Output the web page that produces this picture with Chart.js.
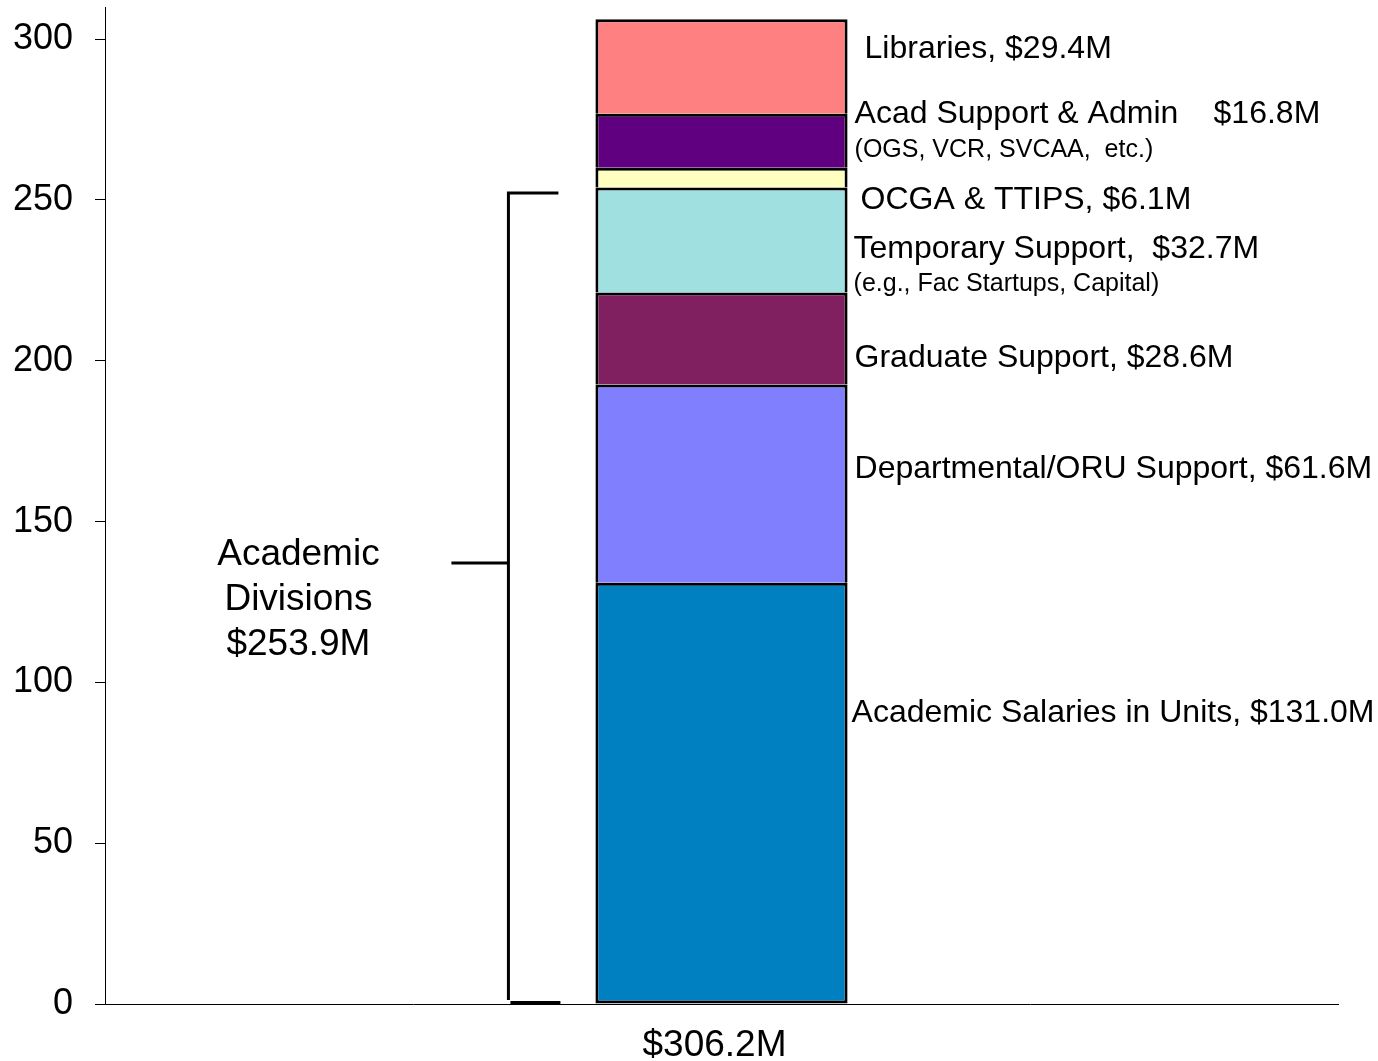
<!DOCTYPE html>
<html>
<head>
<meta charset="utf-8">
<script src="https://cdn.jsdelivr.net/npm/chart.js@4.4.1/dist/chart.umd.min.js"></script>
<style>
  html, body { margin: 0; padding: 0; background: #fff; }
  #wrap { width: 1378px; height: 1061px; }
</style>
</head>
<body>
<div id="wrap"><canvas id="budget" width="1378" height="1061"></canvas></div>
<script>
// single stacked column, bottom segment first
const categories = ["$306.2M"];
const segmentNames = [
  "Academic Salaries in Units",
  "Departmental/ORU Support",
  "Graduate Support",
  "Temporary Support",
  "OCGA & TTIPS",
  "Acad Support & Admin",
  "Libraries"
];
const segmentValues = [131.0, 61.6, 28.6, 32.7, 6.1, 16.8, 29.4];
const segmentColors = ["#0080C0", "#8080FF", "#802060", "#A0E0E0", "#FFFFC0", "#600080", "#FF8080"];
const segmentNotes = [null, null, null, "(e.g., Fac Startups, Capital)", null, "(OGS, VCR, SVCAA,  etc.)", null];
const yTickValues = [0, 50, 100, 150, 200, 250, 300];
const divisionsLabel = ["Academic", "Divisions", "$253.9M"];

const money = v => "$" + v.toFixed(1) + "M";
const FONT = "'Liberation Sans', Arial, sans-serif";

// where each label sits: y in axis units, x offset from the bar's right edge
const labelSpots = [
  { y: 90.5, dx: 4 },
  { y: 166.3, dx: 7 },
  { y: 200.9, dx: 7 },
  { y: 234.8, dx: 6, noteY: 223.9 },
  { y: 250.0, dx: 13 },
  { y: 276.7, dx: 7, noteY: 265.5 },
  { y: 297.0, dx: 17 }
];

function labelText(i) {
  const name = segmentNames[i], v = money(segmentValues[i]);
  if (i === 5) return [name, v];        // value set off in its own column
  if (i === 3) return [name + ",  " + v];
  return [name + ", " + v];
}

const annotate = {
  id: "annotate",
  afterDraw(chart) {
    const { ctx, scales: { y } } = chart;
    const bar = chart.getDatasetMeta(0).data[0];
    const barLeft = bar.x - bar.width / 2;
    const barRight = bar.x + bar.width / 2;

    ctx.save();
    ctx.fillStyle = "#000";
    ctx.textAlign = "left";
    ctx.textBaseline = "middle";

    segmentNames.forEach((_, i) => {
      const spot = labelSpots[i];
      const parts = labelText(i);
      ctx.font = "32px " + FONT;
      ctx.fillText(parts[0], barRight + spot.dx, y.getPixelForValue(spot.y));
      if (parts[1]) ctx.fillText(parts[1], barRight + 366, y.getPixelForValue(spot.y));
      if (segmentNotes[i]) {
        ctx.font = "25px " + FONT;
        ctx.fillText(segmentNotes[i], barRight + spot.dx, y.getPixelForValue(spot.noteY));
      }
    });

    // bracket around the academic divisions part of the column
    const bx = barLeft - 87;
    const top = y.getPixelForValue(252.2);
    const mid = y.getPixelForValue(137.1);
    const bottom = y.getPixelForValue(0);
    ctx.strokeStyle = "#000";
    ctx.lineWidth = 3;
    ctx.lineCap = "butt";
    ctx.beginPath();
    ctx.moveTo(barLeft - 37, top);
    ctx.lineTo(bx, top);
    ctx.lineTo(bx, bottom - 4);
    ctx.moveTo(bx, mid);
    ctx.lineTo(barLeft - 144, mid);
    ctx.stroke();
    ctx.lineWidth = 4;
    ctx.beginPath();
    ctx.moveTo(barLeft - 85, bottom - 1);
    ctx.lineTo(barLeft - 35, bottom - 1);
    ctx.stroke();

    ctx.textAlign = "center";
    ctx.font = "37px " + FONT;
    divisionsLabel.forEach((line, k) => {
      ctx.fillText(line, barLeft - 297, y.getPixelForValue(139.6) + k * 45);
    });
    ctx.restore();
  }
};

new Chart(document.getElementById("budget"), {
  type: "bar",
  data: {
    labels: categories,
    datasets: segmentNames.map((name, i) => ({
      label: name,
      data: [segmentValues[i]],
      backgroundColor: segmentColors[i],
      borderColor: "#000",
      borderWidth: 3,
      borderSkipped: i === 0 ? false : "start",
      categoryPercentage: 1,
      barPercentage: 0.2045
    }))
  },
  options: {
    responsive: false,
    animation: false,
    devicePixelRatio: 1,
    layout: { padding: { left: 0, right: 40, top: 7, bottom: 0 } },
    plugins: {
      legend: { display: false },
      tooltip: { enabled: false },
      title: { display: false }
    },
    scales: {
      x: {
        stacked: true,
        grid: { display: false, drawTicks: false },
        border: { display: true, color: "#000", width: 1 },
        ticks: { color: "#000", font: { family: FONT, size: 37 }, padding: 20, labelOffset: -7 },
        afterFit: s => { s.height = 57; }
      },
      y: {
        stacked: true,
        min: 0,
        max: 310,
        afterBuildTicks: s => { s.ticks = yTickValues.map(v => ({ value: v })); },
        grid: { display: true, drawOnChartArea: false, drawTicks: true, tickLength: 10, color: "#000" },
        border: { display: true, color: "#000", width: 1 },
        ticks: { color: "#000", font: { family: FONT, size: 36 }, padding: 22 },
        afterFit: s => { s.width = 105; s.paddingTop = 0; s.paddingBottom = 0; }
      }
    }
  },
  plugins: [annotate]
});
</script>
</body>
</html>
